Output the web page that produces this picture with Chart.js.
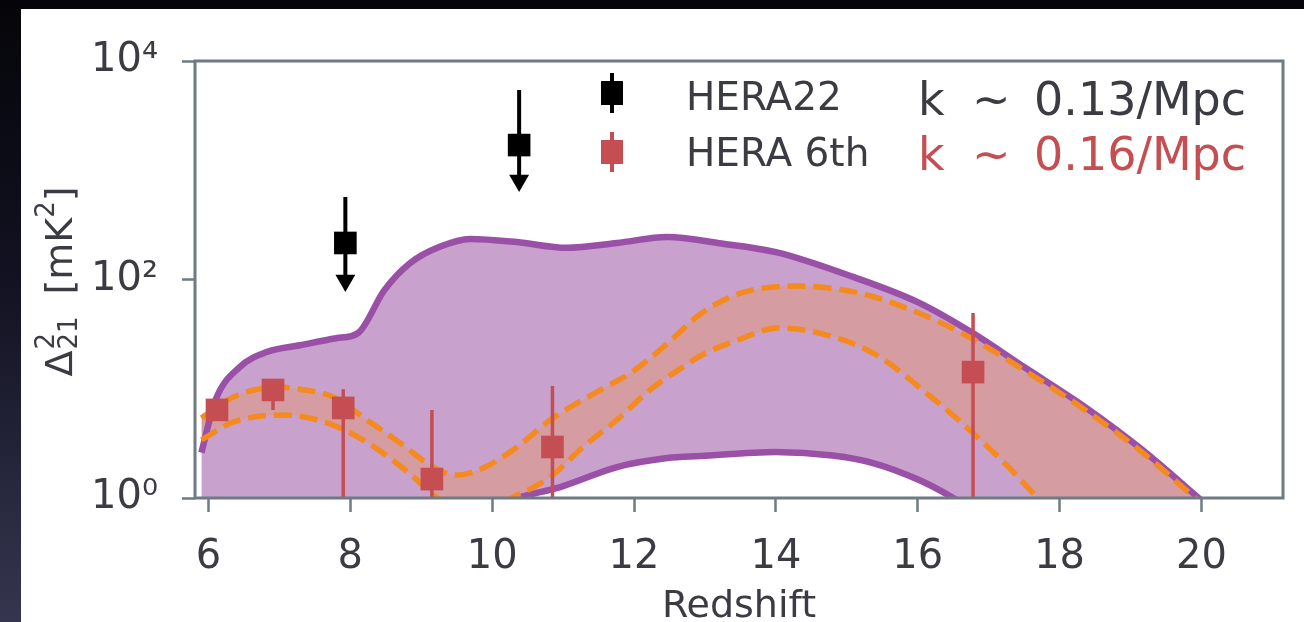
<!DOCTYPE html>
<html>
<head>
<meta charset="utf-8">
<script src="https://cdn.jsdelivr.net/npm/chart.js@4.4.1/dist/chart.umd.min.js"></script>
<style>
  html, body { margin: 0; padding: 0; }
  body {
    width: 1304px; height: 622px; overflow: hidden;
    background: linear-gradient(to bottom, #050509 0%, #121222 45%, #35354f 100%);
  }
  #wrap { position: absolute; left: 0; top: 0; width: 1304px; height: 622px; }
</style>
</head>
<body>
<div id="wrap"><canvas id="myChart"></canvas></div>
<script>
// axis ticks
const xTicks = [6, 8, 10, 12, 14, 16, 18, 20];
const yTicks = [1, 100, 10000];
const yTickLabels = ['10⁰', '10²', '10⁴'];

// purple model envelope (upper / lower edge)
const envHiZ = [5.9, 6.1, 6.44, 6.82, 7.29, 7.8, 8.11, 8.48, 8.84, 9.26, 9.69, 10.35, 11.05, 11.76, 12.47, 13.2, 14.0, 15.1, 16.0, 16.77, 17.5, 18.36, 19.17, 20.0];
const envHiVal = [2.6, 7.9, 15.8, 21.7, 25, 29, 32.4, 80, 141, 199, 235, 220, 195, 216, 245, 215, 178, 105, 62, 32.5, 15.8, 6.8, 2.75, 0.95];
const envLoZ = [5.9, 8.0, 9.5, 10.35, 10.96, 11.76, 12.47, 12.93, 14.0, 14.8, 15.37, 16.02, 16.5, 17.2, 20.0];
const envLoVal = [0.05, 0.2, 0.6, 1.0, 1.26, 1.92, 2.32, 2.42, 2.64, 2.45, 2.09, 1.46, 1.0, 0.5, 0.05];

// orange dashed band
const bandHiZ = [5.9, 6.35, 6.97, 7.29, 7.76, 8.23, 8.7, 9.17, 9.5, 9.87, 10.35, 10.82, 11.52, 11.99, 12.47, 12.93, 13.47, 14.29, 15.1, 15.9, 16.73, 17.5, 18.36, 19.17, 19.95];
const bandHiVal = [5.4, 8.4, 10.4, 9.9, 8.4, 5.2, 3.2, 1.92, 1.62, 1.88, 2.93, 5.2, 9.7, 14.5, 26, 48, 74, 87, 77, 53, 29.6, 14.8, 6.4, 2.6, 0.95];
const bandLoZ = [5.9, 6.35, 7.05, 7.53, 8.0, 8.46, 8.94, 9.17, 9.7, 10.35, 10.82, 11.28, 11.76, 12.23, 12.7, 13.0, 13.47, 14.02, 14.55, 15.37, 16.19, 16.73, 17.28, 17.7, 18.5, 20.0];
const bandLoVal = [3.4, 4.96, 5.75, 5.2, 3.94, 2.58, 1.46, 1.06, 0.75, 1.06, 1.56, 2.93, 5.2, 9.8, 16, 21, 28, 36, 33, 21.2, 8.4, 4.2, 1.92, 1.0, 0.4, 0.05];

// HERA 6th (k ~ 0.16/Mpc)
const h6Z = [6.12, 6.91, 7.9, 9.15, 10.85, 16.78];
const h6Val = [6.4, 9.75, 6.67, 1.49, 2.93, 14.2];
const h6Lo = [6.4, 6.4, 0.01, 0.01, 0.01, 0.01];
const h6Hi = [6.4, 10.5, 9.9, 6.4, 10.6, 49.4];

// HERA22 upper limits (k ~ 0.13/Mpc)
const h22Z = [7.93, 10.38];
const h22Val = [216, 1700];
const h22Hi = [569, 5430];
const h22Arrow = [98, 805];

const purple = '#9b50a8';
const purpleFill = '#c8a1cd';
const orange = '#f58a1f';
const bandFill = '#d59ca1';
const red = '#c44e52';
const spine = '#6d7b82';
const ink = '#3b3b43';
const font = 'DejaVu Sans';

const pts = (xs, ys) => xs.map((x, i) => ({ x: x, y: ys[i] }));
const bars = (xs, lo, hi) => {
    const out = [];
    xs.forEach((x, i) => { out.push({ x: x, y: lo[i] }, { x: x, y: hi[i] }, { x: x, y: null }); });
    return out;
};

const curve = {
    pointRadius: 0,
    cubicInterpolationMode: 'monotone',
    clip: 0,
};

// white slide panel behind the figure
const panel = {
    id: 'panel',
    beforeDraw(chart) {
        const c = chart.ctx;
        c.save();
        c.fillStyle = '#ffffff';
        c.fillRect(21, 9, chart.width - 21, chart.height - 9);
        c.restore();
    }
};

// box around the plotting area
const frame = {
    id: 'frame',
    afterDatasetsDraw(chart) {
        const a = chart.chartArea;
        const c = chart.ctx;
        c.save();
        c.strokeStyle = spine;
        c.lineWidth = 3;
        c.strokeRect(a.left, a.top, a.right - a.left, a.bottom - a.top);
        c.restore();
    }
};

// legend entries and k labels inside the axes
const keys = {
    id: 'keys',
    afterDraw(chart) {
        const c = chart.ctx;
        c.save();
        const rows = [
            { color: '#000000', text: 'HERA22', cy: 93, base: 110 },
            { color: red, text: 'HERA 6th', cy: 152, base: 166 },
        ];
        rows.forEach(r => {
            c.fillStyle = r.color;
            c.fillRect(610, r.cy - 20, 4, 40);
            c.fillRect(601, r.cy - 12, 22, 24);
            c.fillStyle = ink;
            c.font = '39px "' + font + '"';
            c.textBaseline = 'alphabetic';
            c.fillText(r.text, 686, r.base);
        });
        const ks = [
            { color: ink, val: '0.13/Mpc', base: 115 },
            { color: red, val: '0.16/Mpc', base: 170 },
        ];
        c.font = '46px "' + font + '"';
        ks.forEach(k => {
            c.fillStyle = k.color;
            c.fillText('k', 918, k.base);
            c.fillText('∼', 972, k.base);
            c.fillText(k.val, 1034, k.base);
        });
        c.restore();
    }
};

// rotated y-axis title with stacked super/subscript
const yTitle = {
    id: 'yTitle',
    afterDraw(chart) {
        const c = chart.ctx;
        const big = '38px "' + font + '"';
        const small = '26px "' + font + '"';
        c.save();
        c.translate(72, 282);
        c.rotate(-Math.PI / 2);
        c.fillStyle = ink;
        c.textBaseline = 'alphabetic';
        c.font = big;
        const wD = c.measureText('Δ').width;
        const wB = c.measureText('[mK').width;
        const wE = c.measureText(']').width;
        c.font = small;
        const wS = c.measureText('21').width;
        const wS2 = c.measureText('2').width;
        const gap = 22;
        const total = wD + wS + gap + wB + wS2 + wE;
        let x = -total / 2;
        c.font = big;
        c.fillText('Δ', x, 0);
        x += wD + 1;
        c.font = small;
        c.fillText('2', x, -18);
        c.fillText('21', x, 5);
        x += wS + gap;
        c.font = big;
        c.fillText('[mK', x, 0);
        x += wB;
        c.font = small;
        c.fillText('2', x, -18);
        x += wS2;
        c.font = big;
        c.fillText(']', x, 0);
        c.restore();
    }
};

const ctx = document.getElementById('myChart').getContext('2d');
const myChart = new Chart(ctx, {
    type: 'line',
    data: {
        datasets: [
            Object.assign({ data: pts(envLoZ, envLoVal), borderColor: purple, borderWidth: 6.5, fill: false, order: 6 }, curve),
            Object.assign({ data: pts(envHiZ, envHiVal), borderColor: purple, borderWidth: 6.5, fill: '-1', backgroundColor: purpleFill, order: 5 }, curve),
            Object.assign({ data: pts(bandLoZ, bandLoVal), borderColor: orange, borderWidth: 5.5, borderDash: [18, 8], fill: false, order: 4 }, curve),
            Object.assign({ data: pts(bandHiZ, bandHiVal), borderColor: orange, borderWidth: 5.5, borderDash: [18, 8], fill: '-1', backgroundColor: bandFill, order: 3 }, curve),
            { data: bars(h6Z, h6Lo, h6Hi), borderColor: red, borderWidth: 3.5, pointRadius: 0, spanGaps: false, clip: 0, order: 2 },
            { data: pts(h6Z, h6Val), showLine: false, pointStyle: 'rect', pointRadius: 16, pointBorderWidth: 0, backgroundColor: red, pointBackgroundColor: red, order: 1 },
            { data: bars(h22Z, h22Arrow, h22Hi), borderColor: '#000000', borderWidth: 4, pointRadius: 0, spanGaps: false, order: 2 },
            { data: pts(h22Z, h22Arrow), showLine: false, pointStyle: 'triangle', pointRotation: 180, pointRadius: 11.5, pointBorderWidth: 0, pointBackgroundColor: '#000000', order: 1 },
            { data: pts(h22Z, h22Val), showLine: false, pointStyle: 'rect', pointRadius: 16, pointBorderWidth: 0, pointBackgroundColor: '#000000', order: 1 },
        ],
    },
    options: {
        responsive: true,
        maintainAspectRatio: false,
        animation: false,
        events: [],
        layout: { padding: { left: 0, top: 61, right: 21, bottom: 0 } },
        plugins: {
            legend: { display: false },
            tooltip: { enabled: false },
            filler: { drawTime: 'beforeDatasetsDraw' },
        },
        scales: {
            x: {
                type: 'linear',
                min: 5.81,
                max: 21.15,
                afterBuildTicks: s => { s.ticks = xTicks.map(v => ({ value: v })); },
                afterFit: s => { s.height = 124; },
                grid: { display: true, drawOnChartArea: false, drawTicks: true, tickLength: 14, tickWidth: 2.5, tickColor: spine },
                border: { display: false },
                ticks: { autoSkip: false, maxRotation: 0, padding: 22, color: ink, font: { family: font, size: 40 } },
                title: { display: true, text: 'Redshift', color: ink, font: { family: font, size: 38, lineHeight: 0.8 }, padding: 0 },
            },
            y: {
                type: 'logarithmic',
                min: 1,
                max: 10000,
                afterBuildTicks: s => { s.ticks = yTicks.map(v => ({ value: v })); },
                afterFit: s => { s.width = 195; },
                grid: { display: true, drawOnChartArea: false, drawTicks: true, tickLength: 13, tickWidth: 2.5, tickColor: spine },
                border: { display: false },
                ticks: { autoSkip: false, padding: 24, color: ink, font: { family: font, size: 40 }, callback: (v, i) => yTickLabels[i] },
            },
        },
    },
    plugins: [panel, frame, keys, yTitle],
});
</script>
</body>
</html>
